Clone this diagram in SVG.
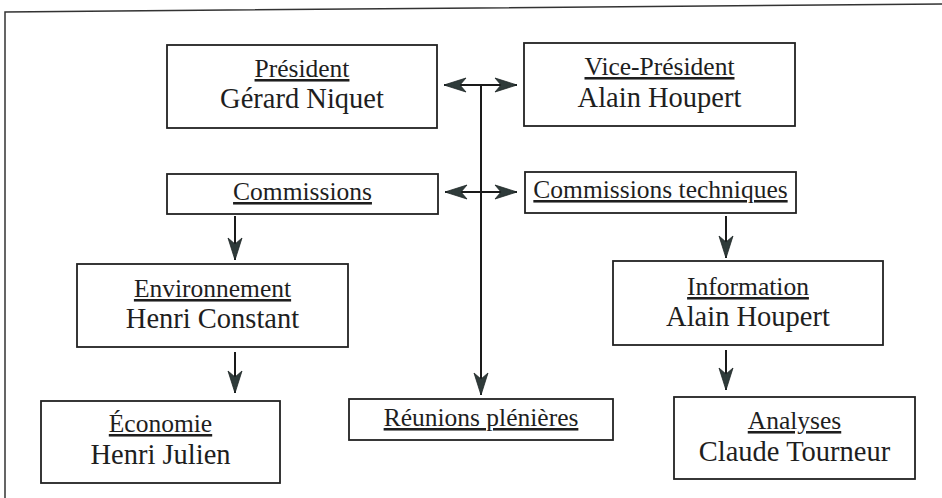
<svg xmlns="http://www.w3.org/2000/svg" width="942" height="498" viewBox="0 0 942 498">
<style>
.box{fill:#fff;stroke:#222;stroke-width:1.8}
.t{font-family:"Liberation Serif","Times New Roman",serif;fill:#1e1e1e;text-anchor:middle}
.ti{font-size:25.5px;text-decoration:underline}
.nm{font-size:28.5px}
.ln{stroke:#1a1a1a;stroke-width:2;fill:none}
.fr{stroke:#333;stroke-width:1.5;fill:none}
</style>
<defs>
<marker id="ah" viewBox="-24 -8 25 16" markerWidth="25" markerHeight="16" refX="0" refY="0" orient="auto-start-reverse" markerUnits="userSpaceOnUse">
<path d="M0,0 L-22,-7 L-16,0 L-22,7 Z" fill="#2f3b3a" stroke="#1e2626" stroke-width="0.8"/>
</marker>
</defs>
<rect width="942" height="498" fill="#fff"/>
<g id="frame">
<path class="fr" d="M5,498 L5,12 L942,4"/>
</g>
<g id="connectors">
<line class="ln" x1="481" y1="85" x2="481" y2="395" marker-end="url(#ah)"/>
<line class="ln" x1="444" y1="85" x2="517" y2="85" marker-start="url(#ah)" marker-end="url(#ah)"/>
<line class="ln" x1="445" y1="192" x2="517" y2="192" marker-start="url(#ah)" marker-end="url(#ah)"/>
<line class="ln" x1="235" y1="216" x2="235" y2="260" marker-end="url(#ah)"/>
<line class="ln" x1="235" y1="352" x2="235" y2="393" marker-end="url(#ah)"/>
<line class="ln" x1="726" y1="216" x2="726" y2="258" marker-end="url(#ah)"/>
<line class="ln" x1="726" y1="350" x2="726" y2="390" marker-end="url(#ah)"/>
</g>
<g id="president">
<rect class="box" x="167" y="45" width="270" height="83"/>
<text class="t ti" x="302" y="77">Président</text>
<text class="t nm" x="302" y="108">Gérard Niquet</text>
</g>
<g id="vice-president">
<rect class="box" x="524" y="43" width="271" height="83"/>
<text class="t ti" x="659.5" y="75">Vice-Président</text>
<text class="t nm" x="659.5" y="107">Alain Houpert</text>
</g>
<g id="commissions">
<rect class="box" x="167" y="174" width="271" height="40"/>
<text class="t ti" x="302.5" y="200">Commissions</text>
</g>
<g id="commissions-techniques">
<rect class="box" x="525" y="172" width="271" height="41"/>
<text class="t ti" x="660.5" y="198">Commissions techniques</text>
</g>
<g id="environnement">
<rect class="box" x="77" y="264" width="271" height="83"/>
<text class="t ti" x="212.5" y="297">Environnement</text>
<text class="t nm" x="212.5" y="328">Henri Constant</text>
</g>
<g id="information">
<rect class="box" x="613" y="261" width="270" height="84"/>
<text class="t ti" x="748" y="295">Information</text>
<text class="t nm" x="748" y="326">Alain Houpert</text>
</g>
<g id="economie">
<rect class="box" x="41" y="401" width="239" height="82"/>
<text class="t ti" x="160.5" y="432">Économie</text>
<text class="t nm" x="160.5" y="464">Henri Julien</text>
</g>
<g id="reunions">
<rect class="box" x="349" y="399" width="264" height="41"/>
<text class="t ti" x="481" y="426">Réunions plénières</text>
</g>
<g id="analyses">
<rect class="box" x="674" y="397" width="241" height="82"/>
<text class="t ti" x="794.5" y="429">Analyses</text>
<text class="t nm" x="794.5" y="461">Claude Tourneur</text>
</g>
</svg>
